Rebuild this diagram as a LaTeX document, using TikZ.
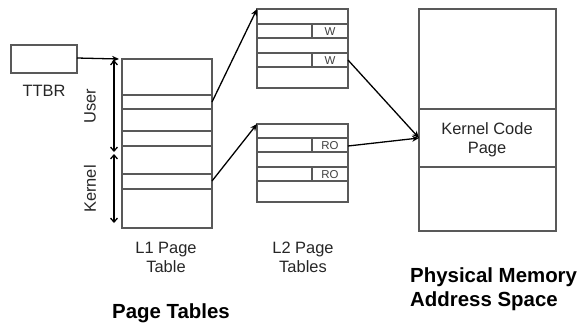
\documentclass[tikz,border=0pt]{standalone}
\usepackage{fontspec}
\setmainfont{Liberation Sans}
\usetikzlibrary{arrows.meta}
\definecolor{boxgray}{HTML}{595959}
\tikzset{
  cell/.style={draw=boxgray, line width=1.1pt},
  link/.style={draw=black, line width=1.3pt, -{Stealth[length=7pt,width=6pt]}},
  span/.style={draw=black, line width=1.3pt, {Straight Barb[length=4pt,width=7pt]}-{Straight Barb[length=4pt,width=7pt]}},
  lbl/.style={font=\fontsize{16.5}{19}\selectfont, text=black!85, align=center, inner sep=0pt},
  flag/.style={font=\fontsize{11.5}{12}\selectfont, text=black!75, inner sep=0pt},
  title/.style={font=\fontsize{20.5}{24}\bfseries\selectfont, align=left, inner sep=0pt}
}
\begin{document}
\begin{tikzpicture}[x=1bp,y=-1bp]
\useasboundingbox (0,0) rectangle (583,325);

% TTBR register
\draw[cell] (11,45) rectangle (77,73);
\coordinate (ttbr) at (77,58);
\node[lbl] (ttbrlbl) at (44,91) {TTBR};

% L1 page table
\draw[cell] (122,59) rectangle (212,228);
\foreach \y in {95,109,131,146,174,189} \draw[cell] (122,\y) -- (212,\y);
\coordinate (l1top) at (119,59);
\coordinate (l1a) at (212,102);
\coordinate (l1b) at (212,181);
\node[lbl] (l1lbl) at (166,257) {L1 Page\\Table};

% User / Kernel ranges
\coordinate (u1) at (114,60);
\coordinate (u2) at (114,152);
\coordinate (k1) at (114,154);
\coordinate (k2) at (114,223);
\draw[span] (u1) -- (u2);
\draw[span] (k1) -- (k2);
\node[lbl, rotate=90] (userlbl) at (90,106) {User};
\node[lbl, rotate=90] (kernlbl) at (90,189) {Kernel};

% L2 page tables (upper: W entries)
\draw[cell] (257,9) rectangle (348,88);
\foreach \y in {24,38,53,67} \draw[cell] (257,\y) -- (348,\y);
\draw[cell] (312,24) -- (312,38);
\draw[cell] (312,53) -- (312,67);
\node[flag] (w1) at (330,31.5) {W};
\node[flag] (w2) at (330,60.5) {W};
\coordinate (l2atop) at (257,9);
\coordinate (l2aout) at (348,60);

% L2 page tables (lower: RO entries)
\draw[cell] (257,124) rectangle (348,202);
\foreach \y in {138,152,167,181} \draw[cell] (257,\y) -- (348,\y);
\draw[cell] (312,138) -- (312,152);
\draw[cell] (312,167) -- (312,181);
\node[flag] (ro1) at (330,145.5) {RO};
\node[flag] (ro2) at (330,174.5) {RO};
\coordinate (l2btop) at (257,124);
\coordinate (l2bout) at (348,146);
\node[lbl] (l2lbl) at (303,257) {L2 Page\\Tables};

% Physical memory
\draw[cell] (419,9) rectangle (556,231);
\draw[cell] (419,109) -- (556,109);
\draw[cell] (419,167) -- (556,167);
\node[lbl] (kcode) at (487,140) {Kernel Code\\Page};
\coordinate (pm) at (419,138);

% Connectors
\draw[link] (ttbr) -- (l1top);
\draw[link] (l1a) -- (l2atop);
\draw[link] (l1b) -- (l2btop);
\draw[link] (l2aout) -- (pm);
\draw[link] (l2bout) -- (pm);

% Titles
\node[title, anchor=west] (phys) at (410,289.5) {Physical Memory\\Address Space};
\node[title] (pt) at (171,313) {Page Tables};
\end{tikzpicture}
\end{document}
